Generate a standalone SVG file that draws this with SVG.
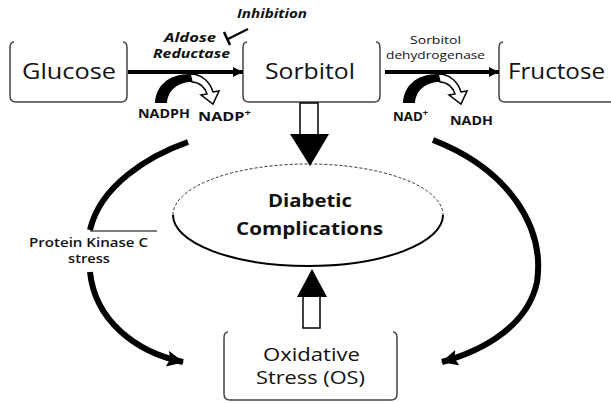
<svg xmlns="http://www.w3.org/2000/svg" width="611" height="403" viewBox="0 0 611 403">
<style>
text{font-family:"Open Sans","DejaVu Sans",sans-serif;fill:#111}
.box{fill:none;stroke:#444;stroke-width:1.5}
.big{font-size:21px}
.bi{font-weight:bold;font-style:italic;font-size:12px}
.sm{font-weight:bold;font-size:11.5px}
.enz{font-size:10.5px}
.dc{font-weight:bold;font-size:17px}
.pk{font-weight:600;font-size:12.5px}
.os{font-size:18px}
.thick{fill:none;stroke:#000;stroke-width:6;stroke-linecap:butt}
.rxn{fill:none;stroke:#000;stroke-width:4}
.hollow{fill:#fff;stroke:#000;stroke-width:1.5;stroke-linejoin:miter}
</style>
<defs>
<marker id="ah" markerUnits="userSpaceOnUse" markerWidth="12" markerHeight="12" refX="10" refY="5" orient="auto">
<path d="M0,0 L10,5 L0,10 Z" fill="#000"/>
</marker>
<marker id="bh" markerUnits="userSpaceOnUse" markerWidth="20" markerHeight="20" refX="16" refY="8" orient="auto">
<path d="M0,0 L17,8 L0,16 L3,8 Z" fill="#000"/>
</marker>
<g id="cof">
<path d="M155,103 C156,86 168,74 190,74 L192,82 C178,82 168,90 167,103 Z" fill="#000"/>
<path class="hollow" d="M190,74 C202,74 210,82 213,92 L219,91 L213,104 L201,95 L207,94 C205,87 199,82 192,82 Z"/>
</g>
</defs>

<g id="glucose">
<path class="box" d="M14,42 Q10,42 10,48 V96 Q10,102 16,102 H121 Q127,102 127,96 V48 Q127,42 123,42"/>
<text class="big" x="22" y="79" textLength="94" lengthAdjust="spacingAndGlyphs">Glucose</text>
</g>
<g id="sorbitol">
<path class="box" d="M247,42 Q243,42 243,48 V96 Q243,102 249,102 H374 Q380,102 380,96 V48 Q380,42 376,42"/>
<text class="big" x="265" y="79" textLength="90" lengthAdjust="spacingAndGlyphs">Sorbitol</text>
</g>
<g id="fructose">
<path class="box" d="M503,42 Q499,42 499,48 V96 Q499,102 505,102 H620"/>
<text class="big" x="508" y="79" textLength="97" lengthAdjust="spacingAndGlyphs">Fructose</text>
</g>
<g id="complications">
<path d="M173,215 A135,51 0 0 1 443,215" fill="none" stroke="#333" stroke-width="1" stroke-dasharray="3,2"/>
<path d="M173,215 A135,51 0 0 0 443,215" fill="none" stroke="#000" stroke-width="2"/>
<text class="dc" x="268" y="207" textLength="84" lengthAdjust="spacingAndGlyphs">Diabetic</text>
<text class="dc" x="236" y="235" textLength="147" lengthAdjust="spacingAndGlyphs">Complications</text>
</g>
<g id="os">
<path class="box" d="M228,332 Q224,332 224,338 V394 Q224,400 230,400 H391 Q397,400 397,394 V338 Q397,332 393,332"/>
<text class="os" x="263" y="361" textLength="97" lengthAdjust="spacingAndGlyphs">Oxidative</text>
<text class="os" x="256" y="384" textLength="109" lengthAdjust="spacingAndGlyphs">Stress (OS)</text>
</g>

<g id="connectors">
<line class="rxn" x1="128" y1="72" x2="243" y2="72" marker-end="url(#ah)"/>
<line class="rxn" x1="385" y1="72" x2="499" y2="72" marker-end="url(#ah)"/>
<path d="M248,29 L228,39" stroke="#000" stroke-width="2" fill="none"/>
<path d="M224,32 L230,45" stroke="#000" stroke-width="2.5" fill="none"/>
<use href="#cof"/>
<use href="#cof" transform="translate(248,0)"/>
<rect class="hollow" x="300" y="103" width="18" height="33"/>
<polygon points="290,134 329,134 310,166" fill="#000"/>
<rect class="hollow" x="303" y="291" width="17" height="37"/>
<polygon points="297,297 327,297 312,269" fill="#000"/>
<path class="thick" d="M188,142 C148,156 100,186 90,230"/>
<line x1="90" y1="231" x2="157" y2="231" stroke="#000" stroke-width="1"/>
<path class="thick" d="M90,272 C95,320 135,352 183,362" marker-end="url(#bh)"/>
<path class="thick" d="M433,140 C510,170 545,228 537,282 C528,325 485,350 442,362" marker-end="url(#bh)"/>
</g>

<g id="labels">
<text class="bi" x="237" y="18" textLength="70" lengthAdjust="spacingAndGlyphs">Inhibition</text>
<text class="bi" x="164" y="42" textLength="52" lengthAdjust="spacingAndGlyphs">Aldose</text>
<text class="bi" x="153" y="58" textLength="77" lengthAdjust="spacingAndGlyphs">Reductase</text>
<text class="enz" x="410" y="44" textLength="51" lengthAdjust="spacingAndGlyphs">Sorbitol</text>
<text class="enz" x="386" y="59" textLength="99" lengthAdjust="spacingAndGlyphs">dehydrogenase</text>
<text class="sm" x="138" y="118" textLength="52" lengthAdjust="spacingAndGlyphs">NADPH</text>
<text class="sm" x="198" y="121" textLength="53" lengthAdjust="spacingAndGlyphs">NADP<tspan font-size="8" dy="-5">+</tspan></text>
<text class="sm" x="393" y="121" textLength="35" lengthAdjust="spacingAndGlyphs">NAD<tspan font-size="8" dy="-5">+</tspan></text>
<text class="sm" x="450" y="125" textLength="43" lengthAdjust="spacingAndGlyphs">NADH</text>
<text class="pk" x="29" y="247" textLength="119" lengthAdjust="spacingAndGlyphs">Protein Kinase C</text>
<text class="pk" x="68" y="263" textLength="42" lengthAdjust="spacingAndGlyphs">stress</text>
</g>
</svg>
